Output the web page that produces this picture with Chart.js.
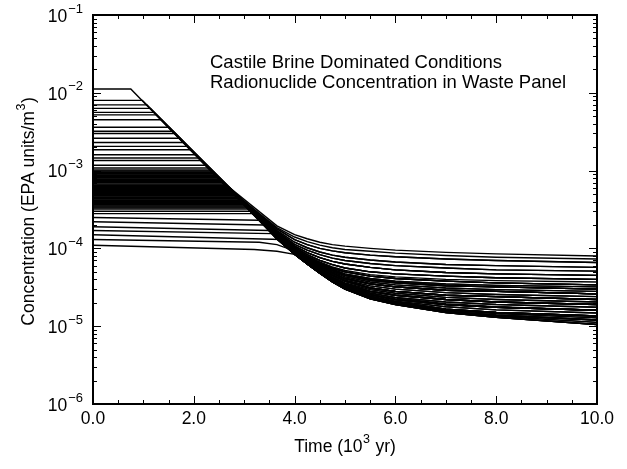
<!DOCTYPE html>
<html>
<head>
<meta charset="utf-8">
<script src="https://cdn.jsdelivr.net/npm/chart.js@4.4.0/dist/chart.umd.min.js"></script>
<style>
  html, body { margin: 0; padding: 0; background: #fff; }
</style>
</head>
<body>
<canvas id="chart" width="627" height="469"></canvas>
<script>
// --- data -----------------------------------------------------------------
// each run: flat at its start level until the knee, then down the common
// decay line and out onto one of the tail curves below
const startLevels = [
  1.12e-2, 8.0e-3, 7.0e-3, 6.3e-3, 5.6e-3, 5.2e-3, 4.5e-3, 3.6e-3, 3.2e-3, 3.0e-3,
  2.6e-3, 2.3e-3, 2.05e-3, 1.85e-3, 1.6e-3, 1.45e-3, 1.35e-3, 1.17e-3, 1.08e-3, 1.02e-3,
  9.6e-4, 9.2e-4, 8.8e-4, 8.5e-4, 8.2e-4, 7.8e-4, 7.5e-4, 7.2e-4, 6.9e-4, 6.7e-4,
  6.4e-4, 6.2e-4, 6.0e-4, 5.8e-4, 5.6e-4, 5.4e-4, 5.2e-4, 5.0e-4, 4.9e-4, 4.7e-4,
  4.5e-4, 4.4e-4, 4.2e-4, 4.1e-4, 3.9e-4, 3.8e-4, 3.6e-4, 3.5e-4, 3.3e-4, 3.2e-4,
  3.0e-4, 2.8e-4,
  2.5e-4, 2.2e-4, 1.9e-4, 1.7e-4, 1.5e-4, 1.3e-4, 1.1e-4,
  9.9e-4, 9.4e-4, 9.0e-4, 8.65e-4, 8.35e-4, 8.0e-4, 7.65e-4, 7.35e-4, 7.05e-4, 6.55e-4,
  6.3e-4, 6.1e-4, 5.9e-4, 5.7e-4, 5.5e-4, 5.3e-4, 5.1e-4, 4.8e-4, 4.6e-4, 4.3e-4,
  4.0e-4, 3.7e-4, 3.4e-4
];
const kneeLevels = [
  1.12e-2, 8.0e-3, 7.0e-3, 6.3e-3, 5.6e-3, 5.2e-3, 4.5e-3, 3.6e-3, 3.2e-3, 3.0e-3,
  2.6e-3, 2.3e-3, 2.05e-3, 1.85e-3, 1.6e-3, 1.45e-3, 1.35e-3, 1.17e-3, 1.08e-3, 1.02e-3,
  9.6e-4, 9.2e-4, 8.8e-4, 8.5e-4, 8.2e-4, 7.8e-4, 7.5e-4, 7.2e-4, 6.9e-4, 6.7e-4,
  6.4e-4, 6.2e-4, 6.0e-4, 5.8e-4, 5.6e-4, 5.4e-4, 5.2e-4, 5.0e-4, 4.9e-4, 4.7e-4,
  4.5e-4, 4.4e-4, 4.2e-4, 4.1e-4, 3.9e-4, 3.8e-4, 3.6e-4, 3.5e-4, 3.3e-4, 3.2e-4,
  3.0e-4, 2.8e-4,
  2.3e-4, 2.0e-4, 1.7e-4, 1.55e-4, 1.3e-4, 1.2e-4, 9.7e-5,
  9.9e-4, 9.4e-4, 9.0e-4, 8.65e-4, 8.35e-4, 8.0e-4, 7.65e-4, 7.35e-4, 7.05e-4, 6.55e-4,
  6.3e-4, 6.1e-4, 5.9e-4, 5.7e-4, 5.5e-4, 5.3e-4, 5.1e-4, 4.8e-4, 4.6e-4, 4.3e-4,
  4.0e-4, 3.7e-4, 3.4e-4
];
const kneeTimes = [
  0.75, 0.98, 1.07, 1.14, 1.21, 1.26, 1.36, 1.51, 1.59, 1.63,
  1.72, 1.80, 1.88, 1.95, 2.05, 2.11, 2.16, 2.25, 2.31, 2.34,
  2.39, 2.41, 2.44, 2.47, 2.49, 2.52, 2.55, 2.58, 2.60, 2.62,
  2.65, 2.68, 2.70, 2.72, 2.74, 2.77, 2.79, 2.82, 2.83, 2.86,
  2.89, 2.90, 2.93, 2.95, 2.98, 3.00, 3.04, 3.06, 3.09, 3.12,
  3.16, 3.20,
  3.30, 3.40, 3.50, 3.55, 3.75, 3.30, 3.20,
  2.36, 2.40, 2.43, 2.45, 2.48, 2.51, 2.54, 2.56, 2.59, 2.64,
  2.66, 2.69, 2.71, 2.73, 2.76, 2.78, 2.80, 2.85, 2.87, 2.92,
  2.97, 3.02, 3.08
];
const tailOf = [
  15, 10, 12, 8, 13, 11, 9, 14, 10, 7,
  12, 11, 9, 15, 13, 8, 10, 14, 12, 9,
  11, 7, 13, 10, 8, 14, 11, 9,
  0, 12, 4, 6, 2, 10, 5, 13, 3, 11,
  1, 6, 8, 4, 5, 14, 2, 9, 3, 12,
  5, 15, 6, 7,
  7, 10, 9, 13, 12, 16, 17,
  18, 22, 19, 24, 20, 25, 21, 23, 26, 22,
  19, 24, 20, 25, 21, 23, 18, 11, 13, 15,
  12, 14, 9
];

const tailTimes = [3.65, 4.0, 4.25, 4.5, 4.75, 5.0, 5.5, 6.0, 7.0, 8.0, 10.0];
const tailLevels = [
  [1.95e-4, 1.5e-4, 1.33e-4, 1.2e-4, 1.12e-4, 1.07e-4, 1.0e-4, 9.5e-5, 8.9e-5, 8.5e-5, 8.0e-5],
  [1.85e-4, 1.4e-4, 1.22e-4, 1.1e-4, 1.02e-4, 9.7e-5, 9.2e-5, 8.7e-5, 8.1e-5, 7.7e-5, 7.3e-5],
  [1.78e-4, 1.3e-4, 1.12e-4, 1.0e-4, 9.3e-5, 8.8e-5, 8.2e-5, 7.8e-5, 7.3e-5, 7.0e-5, 6.6e-5],
  [1.7e-4, 1.2e-4, 1.02e-4, 9.0e-5, 8.2e-5, 7.7e-5, 7.1e-5, 6.7e-5, 6.2e-5, 6.0e-5, 5.7e-5],
  [1.65e-4, 1.13e-4, 9.5e-5, 8.3e-5, 7.5e-5, 7.0e-5, 6.4e-5, 6.0e-5, 5.6e-5, 5.3e-5, 5.1e-5],
  [1.6e-4, 1.07e-4, 8.8e-5, 7.6e-5, 6.8e-5, 6.3e-5, 5.7e-5, 5.3e-5, 4.9e-5, 4.7e-5, 4.5e-5],
  [1.55e-4, 1.02e-4, 8.3e-5, 7.0e-5, 6.2e-5, 5.6e-5, 5.0e-5, 4.7e-5, 4.4e-5, 4.2e-5, 4.0e-5],
  [1.52e-4, 9.7e-5, 7.8e-5, 6.5e-5, 5.6e-5, 5.0e-5, 4.4e-5, 4.1e-5, 3.8e-5, 3.6e-5, 3.4e-5],
  [1.48e-4, 9.4e-5, 7.4e-5, 6.1e-5, 5.2e-5, 4.5e-5, 3.9e-5, 3.6e-5, 3.3e-5, 3.2e-5, 3.0e-5],
  [1.45e-4, 9.1e-5, 7.1e-5, 5.8e-5, 4.8e-5, 4.1e-5, 3.5e-5, 3.2e-5, 2.9e-5, 2.8e-5, 2.6e-5],
  [1.42e-4, 8.9e-5, 6.8e-5, 5.5e-5, 4.5e-5, 3.8e-5, 3.1e-5, 2.8e-5, 2.5e-5, 2.4e-5, 2.2e-5],
  [1.4e-4, 8.7e-5, 6.6e-5, 5.2e-5, 4.2e-5, 3.5e-5, 2.8e-5, 2.5e-5, 2.2e-5, 2.05e-5, 1.9e-5],
  [1.38e-4, 8.6e-5, 6.5e-5, 5.0e-5, 4.0e-5, 3.3e-5, 2.55e-5, 2.2e-5, 1.9e-5, 1.75e-5, 1.6e-5],
  [1.36e-4, 8.5e-5, 6.4e-5, 4.9e-5, 3.85e-5, 3.15e-5, 2.4e-5, 2.05e-5, 1.65e-5, 1.5e-5, 1.35e-5],
  [1.34e-4, 8.4e-5, 6.3e-5, 4.8e-5, 3.75e-5, 3.05e-5, 2.3e-5, 1.95e-5, 1.55e-5, 1.38e-5, 1.2e-5],
  [1.32e-4, 8.4e-5, 6.3e-5, 4.8e-5, 3.7e-5, 3.0e-5, 2.25e-5, 1.9e-5, 1.5e-5, 1.3e-5, 1.05e-5],
  [1.12e-4, 9.3e-5, 7.6e-5, 6.2e-5, 5.2e-5, 4.6e-5, 4.0e-5, 3.7e-5, 3.4e-5, 3.2e-5, 3.0e-5],
  [9.2e-5, 8.4e-5, 6.6e-5, 5.2e-5, 4.2e-5, 3.5e-5, 2.7e-5, 2.3e-5, 1.95e-5, 1.78e-5, 1.6e-5],
  [1.5e-4, 9.5e-5, 7.6e-5, 6.3e-5, 5.4e-5, 4.7e-5, 4.1e-5, 3.8e-5, 3.5e-5, 3.35e-5, 3.2e-5],
  [1.47e-4, 9.2e-5, 7.2e-5, 5.9e-5, 5.0e-5, 4.3e-5, 3.7e-5, 3.4e-5, 3.1e-5, 2.95e-5, 2.8e-5],
  [1.43e-4, 9.0e-5, 6.9e-5, 5.6e-5, 4.6e-5, 3.9e-5, 3.3e-5, 3.0e-5, 2.7e-5, 2.55e-5, 2.4e-5],
  [1.41e-4, 8.8e-5, 6.7e-5, 5.3e-5, 4.3e-5, 3.6e-5, 2.95e-5, 2.65e-5, 2.35e-5, 2.2e-5, 2.05e-5],
  [1.39e-4, 8.6e-5, 6.5e-5, 5.1e-5, 4.1e-5, 3.4e-5, 2.65e-5, 2.35e-5, 2.05e-5, 1.9e-5, 1.75e-5],
  [1.37e-4, 8.5e-5, 6.4e-5, 4.95e-5, 3.9e-5, 3.2e-5, 2.45e-5, 2.1e-5, 1.78e-5, 1.62e-5, 1.48e-5],
  [1.35e-4, 8.4e-5, 6.3e-5, 4.85e-5, 3.8e-5, 3.1e-5, 2.35e-5, 2.0e-5, 1.6e-5, 1.45e-5, 1.28e-5],
  [1.33e-4, 8.4e-5, 6.3e-5, 4.8e-5, 3.72e-5, 3.02e-5, 2.28e-5, 1.92e-5, 1.52e-5, 1.34e-5, 1.12e-5],
  [1.5e-4, 9.9e-5, 8.0e-5, 6.7e-5, 5.8e-5, 5.2e-5, 4.6e-5, 4.3e-5, 4.0e-5, 3.85e-5, 3.7e-5]
];

const xTickValues = [0, 2, 4, 6, 8, 10];
const xTickLabels = ['0.0', '2.0', '4.0', '6.0', '8.0', '10.0'];
const yTickValues = [1e-6, 1e-5, 1e-4, 1e-3, 1e-2, 1e-1];
const yTickExponents = ['\u22126', '\u22125', '\u22124', '\u22123', '\u22122', '\u22121'];

const noteLines = ['Castile Brine Dominated Conditions', 'Radionuclide Concentration in Waste Panel'];

// --- build datasets --------------------------------------------------------
const datasets = startLevels.map((c0, i) => {
  const pts = [{ x: 0, y: c0 }, { x: kneeTimes[i], y: kneeLevels[i] }];
  const tail = tailLevels[tailOf[i]];
  tailTimes.forEach((t, j) => {
    if (t > kneeTimes[i]) pts.push({ x: t, y: tail[j] });
  });
  return {
    data: pts,
    borderColor: '#000',
    borderWidth: 1.4,
    pointRadius: 0,
    tension: 0,
    fill: false
  };
});

const FONT = '"Liberation Sans", Arial, Helvetica, sans-serif';

// frame, inward ticks and all the labels
const axisDecor = {
  id: 'axisDecor',
  afterDraw(chart) {
    const { ctx, chartArea: a } = chart;
    const xs = chart.scales.x;
    const ys = chart.scales.y;
    ctx.save();
    ctx.strokeStyle = '#000';
    ctx.fillStyle = '#000';

    // x ticks every 0.5, long ones at labelled values
    ctx.lineWidth = 1;
    ctx.beginPath();
    for (let v = 0; v <= 10.001; v += 0.5) {
      const px = Math.round(xs.getPixelForValue(v)) + 0.5;
      const len = xTickValues.includes(v) ? 8 : 4;
      ctx.moveTo(px, a.bottom); ctx.lineTo(px, a.bottom - len);
      ctx.moveTo(px, a.top); ctx.lineTo(px, a.top + len);
    }
    // y ticks: decades long, 2..9 short
    for (let e = -6; e <= -1; e++) {
      for (let m = 1; m <= 9; m++) {
        const v = m * Math.pow(10, e);
        if (v > 0.1000001) break;
        const py = Math.round(ys.getPixelForValue(v)) + 0.5;
        const len = m === 1 ? 8 : 4;
        ctx.moveTo(a.left, py); ctx.lineTo(a.left + len, py);
        ctx.moveTo(a.right, py); ctx.lineTo(a.right - len, py);
      }
    }
    ctx.stroke();

    ctx.lineWidth = 2;
    ctx.strokeRect(a.left, a.top, a.right - a.left, a.bottom - a.top);

    // x tick labels
    ctx.font = '17.5px ' + FONT;
    ctx.textAlign = 'center';
    ctx.textBaseline = 'middle';
    xTickValues.forEach((v, i) => {
      ctx.fillText(xTickLabels[i], xs.getPixelForValue(v), a.bottom + 15);
    });

    // y tick labels 10^n
    yTickValues.forEach((v, i) => {
      const py = ys.getPixelForValue(v);
      ctx.textAlign = 'right';
      ctx.font = '13px ' + FONT;
      const ew = ctx.measureText(yTickExponents[i]).width;
      ctx.fillText(yTickExponents[i], a.left - 10, py - 6);
      ctx.font = '17.5px ' + FONT;
      ctx.fillText('10', a.left - 11 - ew, py + 2);
    });

    // x title: Time (10^3 yr)
    const cx = (a.left + a.right) / 2;
    const ty = a.bottom + 43;
    ctx.textAlign = 'left';
    ctx.font = '17.5px ' + FONT;
    const p1 = 'Time (10', p3 = ' yr)';
    const w1 = ctx.measureText(p1).width, w3 = ctx.measureText(p3).width;
    ctx.font = '12.5px ' + FONT;
    const w2 = ctx.measureText('3').width + 1;
    let sx = cx - (w1 + w2 + w3) / 2;
    ctx.font = '17.5px ' + FONT;
    ctx.fillText(p1, sx, ty);
    ctx.font = '12.5px ' + FONT;
    ctx.fillText('3', sx + w1 + 0.5, ty - 7);
    ctx.font = '17.5px ' + FONT;
    ctx.fillText(p3, sx + w1 + w2, ty);

    // y title: Concentration (EPA units/m^3)
    ctx.save();
    ctx.translate(29, (a.top + a.bottom) / 2 + 2);
    ctx.rotate(-Math.PI / 2);
    const q1 = 'Concentration (EPA units/m', q3 = ')';
    const v1 = ctx.measureText(q1).width, v3 = ctx.measureText(q3).width;
    ctx.font = '12.5px ' + FONT;
    const v2 = ctx.measureText('3').width + 1;
    sx = -(v1 + v2 + v3) / 2;
    ctx.font = '17.5px ' + FONT;
    ctx.fillText(q1, sx, 0);
    ctx.font = '12.5px ' + FONT;
    ctx.fillText('3', sx + v1 + 0.5, -7);
    ctx.font = '17.5px ' + FONT;
    ctx.fillText(q3, sx + v1 + v2, 0);
    ctx.restore();

    // note in the upper right
    ctx.font = '18.5px ' + FONT;
    ctx.textAlign = 'left';
    ctx.textBaseline = 'alphabetic';
    ctx.fillText(noteLines[0], 210, 68);
    ctx.fillText(noteLines[1], 210, 88);

    ctx.restore();
  }
};

new Chart(document.getElementById('chart').getContext('2d'), {
  type: 'line',
  data: { datasets },
  options: {
    responsive: false,
    animation: false,
    layout: { padding: { left: 93, right: 30, top: 15, bottom: 65 } },
    plugins: { legend: { display: false }, tooltip: { enabled: false } },
    scales: {
      x: { type: 'linear', min: 0, max: 10, display: false },
      y: { type: 'logarithmic', min: 1e-6, max: 1e-1, display: false }
    }
  },
  plugins: [axisDecor]
});
</script>
</body>
</html>
